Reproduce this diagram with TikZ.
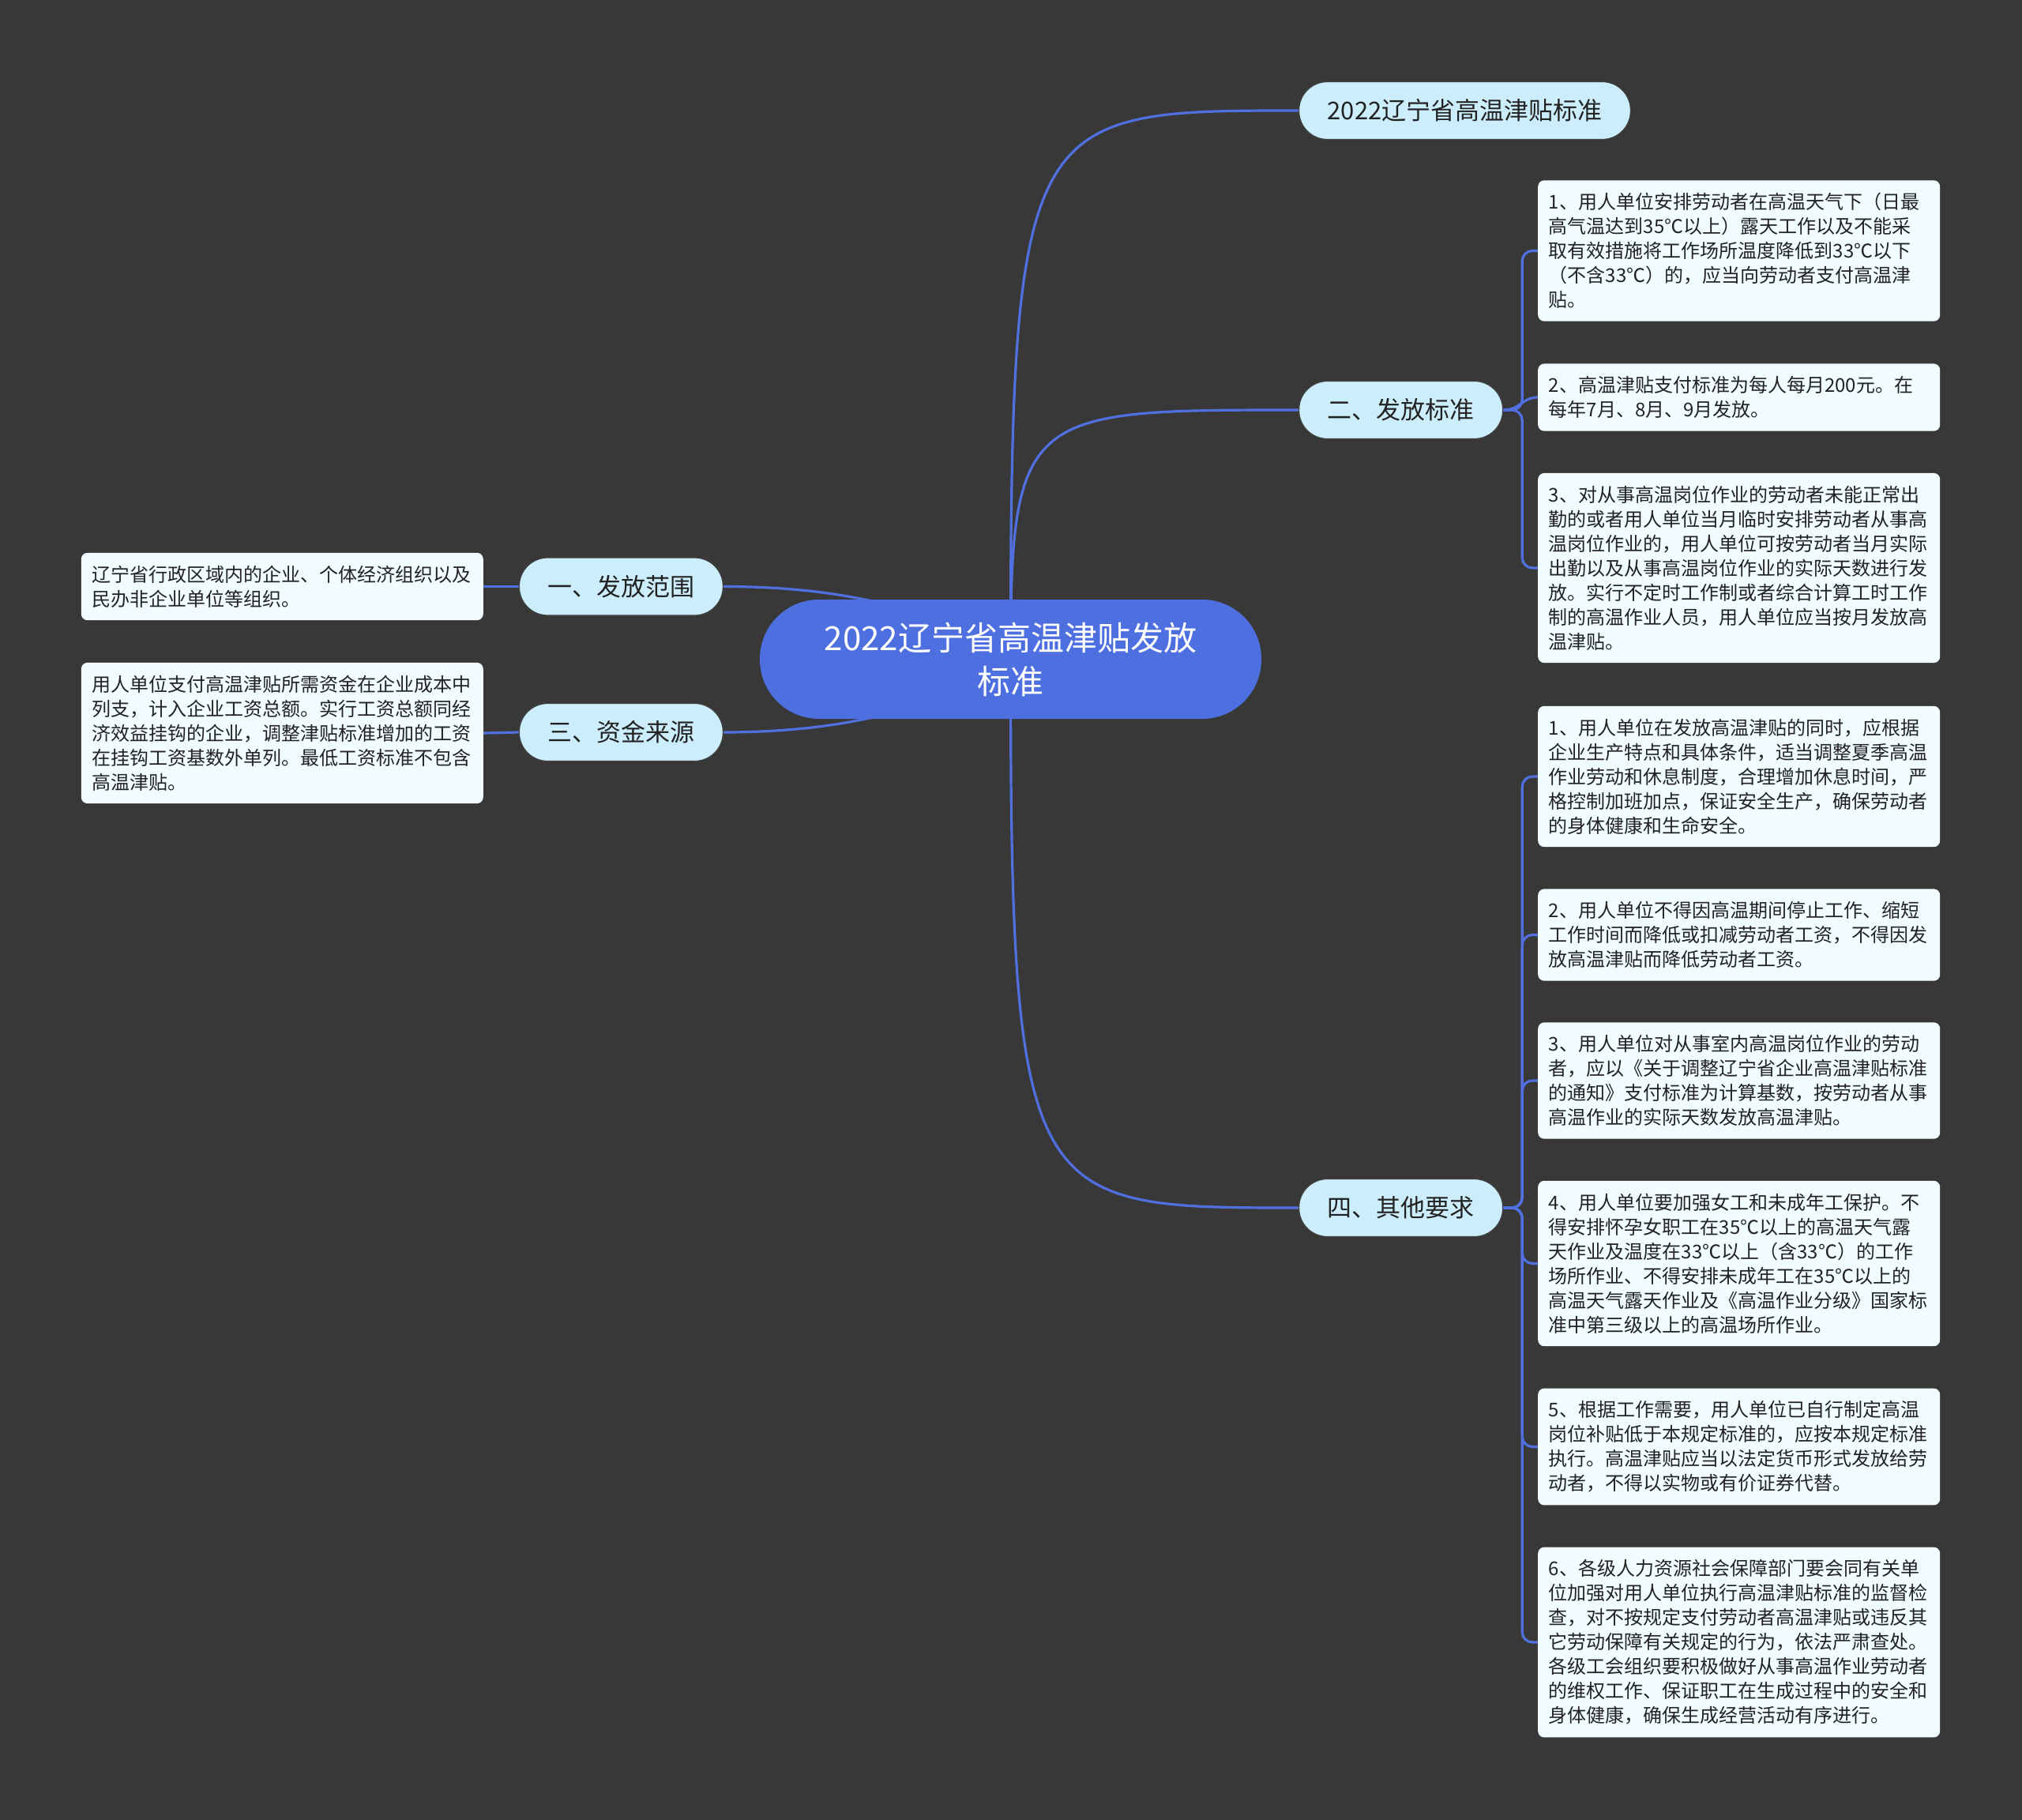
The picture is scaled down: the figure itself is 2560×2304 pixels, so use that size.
\documentclass[tikz,border=0pt]{standalone}
\usepackage{fontspec}
\newfontfamily\cjk{Noto Sans CJK SC}
\usetikzlibrary{positioning,backgrounds}

\definecolor{bgdark}{HTML}{393838}
\definecolor{rootblue}{HTML}{4E6FE0}
\definecolor{linkblue}{HTML}{5170E0}
\definecolor{branchfill}{HTML}{CCEEFC}
\definecolor{leaffill}{HTML}{F0FCFF}
\definecolor{ink}{HTML}{222222}

\begin{document}
\begin{tikzpicture}[
  x=1pt, y=-1pt,
  every node/.style={font=\cjk},
  rootnode/.style={fill=rootblue, text=white, rounded corners=75pt,
    minimum width=635pt, minimum height=151pt, align=center,
    font=\cjk\fontsize{42}{55}\selectfont},
  branch/.style={fill=branchfill, draw=black!75, line width=1.2pt,
    rounded corners=36pt, minimum height=73pt, inner xsep=36pt,
    text=ink, font=\cjk\fontsize{31}{37}\selectfont},
  leaf/.style={fill=leaffill, rounded corners=8pt, text width=482pt,
    inner xsep=13.5pt, inner ysep=16pt, align=left, text=ink,
    font=\cjk\fontsize{24}{31}\selectfont},
  link/.style={draw=linkblue, line width=3.2pt},
  bracket/.style={link, rounded corners=13pt}
]

\begin{scope}[on background layer]
  \fill[bgdark] (0,0) rectangle (2560,2304);
\end{scope}
\useasboundingbox (0,0) rectangle (2560,2304);

% ── root and main branches ──────────────────────────────────────────
\node[rootnode] (root) at (1279.5,834.5) {2022辽宁省高温津贴发放\\标准};
\node[branch, anchor=west] (btitle) at (1644,140) {2022辽宁省高温津贴标准};
\node[branch, anchor=west] (bstd) at (1644,519) {二、发放标准};
\node[branch, anchor=west] (bother) at (1644,1529) {四、其他要求};
\node[branch, anchor=east] (bscope) at (916,742.5) {一、发放范围};
\node[branch, anchor=east] (bfund) at (916,927) {三、资金来源};

% ── left leaves ─────────────────────────────────────────────────────
\node[leaf, anchor=east] (scopetxt) at (612,742.5)
  {辽宁省行政区域内的企业、个体经济组织以及\\
   民办非企业单位等组织。};
\node[leaf, anchor=east] (fundtxt) at (612,928)
  {用人单位支付高温津贴所需资金在企业成本中\\
   列支，计入企业工资总额。实行工资总额同经\\
   济效益挂钩的企业，调整津贴标准增加的工资\\
   在挂钩工资基数外单列。最低工资标准不包含\\
   高温津贴。};

% ── leaves of 二、发放标准 ──────────────────────────────────────────
\node[leaf, anchor=west] (std1) at (1947,317.5)
  {1、用人单位安排劳动者在高温天气下（日最\\
   高气温达到35℃以上）露天工作以及不能采\\
   取有效措施将工作场所温度降低到33℃以下\\
   （不含33℃）的，应当向劳动者支付高温津\\
   贴。};
\node[leaf, anchor=west] (std2) at (1947,503)
  {2、高温津贴支付标准为每人每月200元。在\\
   每年7月、8月、9月发放。};
\node[leaf, anchor=west] (std3) at (1947,719)
  {3、对从事高温岗位作业的劳动者未能正常出\\
   勤的或者用人单位当月临时安排劳动者从事高\\
   温岗位作业的，用人单位可按劳动者当月实际\\
   出勤以及从事高温岗位作业的实际天数进行发\\
   放。实行不定时工作制或者综合计算工时工作\\
   制的高温作业人员，用人单位应当按月发放高\\
   温津贴。};

% ── leaves of 四、其他要求 ──────────────────────────────────────────
\node[leaf, anchor=west] (oth1) at (1947,983)
  {1、用人单位在发放高温津贴的同时，应根据\\
   企业生产特点和具体条件，适当调整夏季高温\\
   作业劳动和休息制度，合理增加休息时间，严\\
   格控制加班加点，保证安全生产，确保劳动者\\
   的身体健康和生命安全。};
\node[leaf, anchor=west] (oth2) at (1947,1183.5)
  {2、用人单位不得因高温期间停止工作、缩短\\
   工作时间而降低或扣减劳动者工资，不得因发\\
   放高温津贴而降低劳动者工资。};
\node[leaf, anchor=west] (oth3) at (1947,1368)
  {3、用人单位对从事室内高温岗位作业的劳动\\
   者，应以《关于调整辽宁省企业高温津贴标准\\
   的通知》支付标准为计算基数，按劳动者从事\\
   高温作业的实际天数发放高温津贴。};
\node[leaf, anchor=west] (oth4) at (1947,1599.5)
  {4、用人单位要加强女工和未成年工保护。不\\
   得安排怀孕女职工在35℃以上的高温天气露\\
   天作业及温度在33℃以上（含33℃）的工作\\
   场所作业、不得安排未成年工在35℃以上的\\
   高温天气露天作业及《高温作业分级》国家标\\
   准中第三级以上的高温场所作业。};
\node[leaf, anchor=west] (oth5) at (1947,1831.5)
  {5、根据工作需要，用人单位已自行制定高温\\
   岗位补贴低于本规定标准的，应按本规定标准\\
   执行。高温津贴应当以法定货币形式发放给劳\\
   动者，不得以实物或有价证券代替。};
\node[leaf, anchor=west] (oth6) at (1947,2079)
  {6、各级人力资源社会保障部门要会同有关单\\
   位加强对用人单位执行高温津贴标准的监督检\\
   查，对不按规定支付劳动者高温津贴或违反其\\
   它劳动保障有关规定的行为，依法严肃查处。\\
   各级工会组织要积极做好从事高温作业劳动者\\
   的维权工作、保证职工在生成过程中的安全和\\
   身体健康，确保生成经营活动有序进行。};

% ── connectors ──────────────────────────────────────────────────────
\begin{scope}[on background layer]
  \draw[link] (root.center) .. controls (root.center |- btitle.west)
    and ([xshift=-344pt]btitle.west) .. (btitle.west);
  \draw[link] (root.center) .. controls (root.center |- bstd.west)
    and ([xshift=-344pt]bstd.west) .. (bstd.west);
  \draw[link] (root.center) .. controls (root.center |- bother.west)
    and ([xshift=-344pt]bother.west) .. (bother.west);
  \draw[link] (bscope.east) .. controls +(156,0) and +(-87,-61) .. (root.center);
  \draw[link] (bfund.east) .. controls +(156,0) and +(-87,61) .. (root.center);
  \draw[link] (scopetxt.east) -- (bscope.west);
  \draw[link] (fundtxt.east) -- (bfund.west);
  \draw[link] (bstd.east) .. controls +(22,0) and +(-20,0) .. (std2.west);
  \foreach \leafname in {std1,std3}
    \draw[bracket] (bstd.east) -- ++(24,0) |- (\leafname.west);
  \foreach \leafname in {oth1,oth2,oth3,oth4,oth5,oth6}
    \draw[bracket] (bother.east) -- ++(24,0) |- (\leafname.west);
\end{scope}

\end{tikzpicture}
\end{document}
